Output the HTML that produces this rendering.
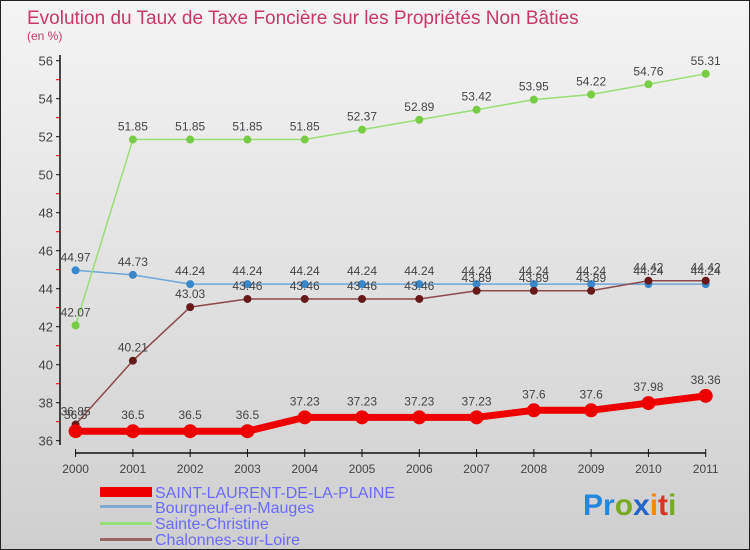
<!DOCTYPE html>
<html><head><meta charset="utf-8"><style>
body{margin:0}
svg{display:block;font-family:"Liberation Sans",sans-serif}
</style></head><body>
<svg width="750" height="550" viewBox="0 0 750 550">
<defs><linearGradient id="bg" x1="0" y1="0" x2="0" y2="1"><stop offset="0" stop-color="#f4f4f4"/><stop offset="1" stop-color="#cfcfcf"/></linearGradient></defs>
<rect x="0.5" y="0.5" width="749" height="549" fill="url(#bg)" stroke="#222"/>
<text x="27" y="24" font-size="19" fill="#c8386a">Evolution du Taux de Taxe Foncière sur les Propriétés Non Bâties</text>
<text x="27" y="40" font-size="12" fill="#c8386a">(en %)</text>
<g id="axes"></g>
<g id="series"></g>
<g id="legend" font-size="16" fill="#6a6aff">
<rect x="100" y="487" width="52" height="10" fill="#ee0000"/>
<text x="155" y="498">SAINT-LAURENT-DE-LA-PLAINE</text>
<rect x="100" y="505" width="52" height="3" fill="#7fa9cf"/>
<text x="155" y="513">Bourgneuf-en-Mauges</text>
<rect x="100" y="522" width="52" height="3" fill="#99dd77"/>
<text x="155" y="529">Sainte-Christine</text>
<rect x="100" y="538" width="52" height="3" fill="#996666"/>
<text x="155" y="545">Chalonnes-sur-Loire</text>
</g>
<g font-size="30" font-weight="bold">
<text x="583" y="515"><tspan fill="#2288dd">Pr</tspan><tspan fill="#77aa22">o</tspan><tspan fill="#2266cc">x</tspan><tspan fill="#ff8800">i</tspan><tspan fill="#dd3322">t</tspan><tspan fill="#77aa22">i</tspan></text>
</g>
</svg>
<script>
const years=[2000,2001,2002,2003,2004,2005,2006,2007,2008,2009,2010,2011];
const yTicks=[36,38,40,42,44,46,48,50,52,54,56];
const saintLaurent=[36.5,36.5,36.5,36.5,37.23,37.23,37.23,37.23,37.6,37.6,37.98,38.36];
const bourgneuf=[44.97,44.73,44.24,44.24,44.24,44.24,44.24,44.24,44.24,44.24,44.24,44.24];
const sainteChristine=[42.07,51.85,51.85,51.85,51.85,52.37,52.89,53.42,53.95,54.22,54.76,55.31];
const chalonnes=[36.85,40.21,43.03,43.46,43.46,43.46,43.46,43.89,43.89,43.89,44.42,44.42];
const NS='http://www.w3.org/2000/svg';
const X=i=>75.6+i*(705.7-75.6)/11;
const Y=v=>440.7-(v-36)*19;
function mk(t,a,p){const e=document.createElementNS(NS,t);for(const k in a)e.setAttribute(k,a[k]);p.appendChild(e);return e;}
const ax=document.getElementById('axes');
const yl=mk('line',{x1:60,y1:55,x2:60,y2:445,stroke:'#111','stroke-width':1.5},ax);


for(let v=37;v<56;v+=2){mk('line',{x1:56,x2:60,y1:Y(v),y2:Y(v),stroke:'#d00'},ax);}
yTicks.forEach(v=>{
 mk('line',{x1:56,x2:60,y1:Y(v),y2:Y(v),stroke:'#111'},ax);
 const t=mk('text',{x:53,y:Y(v)+5,'text-anchor':'end','font-size':13,fill:'#444'},ax);t.textContent=v;
 
 
});
const xl=mk('line',{x1:75,y1:453,x2:706,y2:453,stroke:'#111','stroke-width':1.5},ax);


years.forEach((y,i)=>{
 mk('line',{x1:X(i),x2:X(i),y1:449,y2:457,stroke:'#111'},ax);
 const t=mk('text',{x:X(i),y:473,'text-anchor':'middle','font-size':12,fill:'#444'},ax);t.textContent=y;
 
 
});
const sg=document.getElementById('series');
function series(name,data,color,w,r,dot){
 const g=mk('g',{},sg);
 
 
 const p=mk('polyline',{points:data.map((v,i)=>X(i)+','+Y(v)).join(' '),fill:'none',stroke:color,'stroke-width':w},g);
 data.forEach((v,i)=>{
  const c=mk('circle',{cx:X(i),cy:Y(v),r:r,fill:dot},g);
  
  
  const t=mk('text',{x:X(i),y:Y(v)-r-5,'text-anchor':'middle','font-size':12,fill:'#444'},g);
  t.textContent=v;
  
  
 });
}
series('series-bourgneuf',bourgneuf,'#6fa6d6',1.5,4,'#3a88cc');
series('series-sainte-christine',sainteChristine,'#99dd77',1.5,4,'#77cc44');
series('series-chalonnes',chalonnes,'#8a4a4a',1.5,4,'#661a1a');
series('series-saint-laurent',saintLaurent,'#ee0000',7,7,'#ee0000');
</script>
</body></html>
